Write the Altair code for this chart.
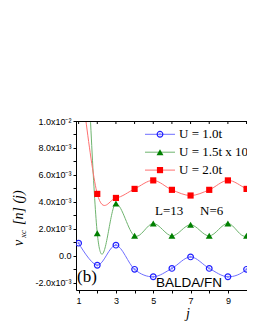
import altair as alt
import pandas as pd

# ---- data (values in units of 1e-3) ----
j_sites = list(range(1, 14))
series_names = ["U = 1.0t", "U = 1.5t x 10", "U = 2.0t"]
blue_vals = [0.95, -0.69, 0.80, -0.99, -1.54, -0.92, -0.07, -0.92, -1.54, -0.99, 0.80, -0.69, 0.95]
green_vals = [31.0, 1.69, 3.88, 1.49, 2.41, 1.49, 2.31, 1.49, 2.41, 1.49, 3.88, 1.69, 31.0]
red_vals = [14.5, 4.60, 4.30, 4.97, 5.60, 4.90, 4.48, 4.90, 5.60, 4.97, 4.30, 4.60, 14.5]
all_vals = [blue_vals, green_vals, red_vals]

x_ticks = list(range(1, 11))
y_tick_steps = list(range(-2, 11))  # in units of 1e-3
y_tick_labels = ["-2.0x10\u207b\u00b3", "", "0.0", "", "2.0x10\u207b\u00b3", "", "4.0x10\u207b\u00b3", "",
                 "6.0x10\u207b\u00b3", "", "8.0x10\u207b\u00b3", "", "1.0x10\u207b\u00b2"]

line_colors = ["#6f6fff", "#6fb46f", "#ff7070"]
marker_colors = ["#1f1fff", "#008000", "#ff0000"]

rows = []
for name, vals in zip(series_names, all_vals):
    for jj, v in zip(j_sites, vals):
        rows.append({"j": jj, "v": v * 1e-3, "series": name})
df = pd.DataFrame(rows)

W, H = 171, 169
xs = alt.Scale(domain=[0.86, 0.86 + W / 18.66], nice=False, zero=False)
ys = alt.Scale(domain=[-0.00252, 0.01], nice=False, zero=False)

label_arr = "[" + ",".join("'" + s + "'" for s in y_tick_labels) + "]"
xaxis = alt.Axis(values=x_ticks, labelExpr="datum.value % 2 == 1 ? datum.label : ''",
                 title=None, grid=False, tickSize=3, labelPadding=3, domainColor="black",
                 tickColor="black", labelFont="Liberation Sans", labelFontSize=9, labelColor="black",
                 labelOverlap=False)
yaxis = alt.Axis(values=[s * 1e-3 for s in y_tick_steps],
                 labelExpr=label_arr + "[round(datum.value*1000)+2]",
                 title=None, grid=False, tickSize=3, labelPadding=2, domainColor="black",
                 tickColor="black", labelFont="Liberation Sans", labelFontSize=9, labelColor="black",
                 labelOverlap=False)

base = alt.Chart(df)
X = alt.X("j:Q", scale=xs, axis=xaxis)
Y = alt.Y("v:Q", scale=ys, axis=yaxis)

layers = []
lines = base.mark_line(interpolate="cardinal", tension=0, clip=True, strokeWidth=1).encode(
    x=X, y=Y,
    color=alt.Color("series:N", scale=alt.Scale(domain=series_names, range=line_colors), legend=None),
)
layers.append(lines)

def marker_layers(src, idx, x=None, y=None):
    out = []
    c = marker_colors[idx]
    clip = x is None
    if clip:
        enc = dict(x=X, y=Y)
    else:
        enc = dict(x=alt.value(x), y=alt.value(y))
    if idx == 0:
        out.append(src.mark_point(shape="circle", filled=False, size=32, strokeWidth=1.2, color=c,
                                  opacity=1, clip=clip).encode(**enc))
        out.append(src.mark_point(shape="circle", filled=True, size=5, color="#7f7fff",
                                  opacity=1, clip=clip).encode(**enc))
    elif idx == 1:
        out.append(src.mark_point(shape="triangle-up", filled=True, size=48, color=c,
                                  opacity=1, clip=clip).encode(**enc))
    else:
        out.append(src.mark_point(shape="square", filled=True, size=38, color=c,
                                  opacity=1, clip=clip).encode(**enc))
    return out

for i, name in enumerate(series_names):
    sub = alt.Chart(df[df.series == name])
    layers += marker_layers(sub, i)

one = pd.DataFrame({"a": [0]})
# top frame line and its inward ticks
layers.append(alt.Chart(one).mark_rule(color="black", strokeWidth=1).encode(
    x=alt.value(0), x2=alt.value(W), y=alt.value(0.5)))
top_ticks = alt.Chart(pd.DataFrame({"j": x_ticks})).mark_rule(color="black", strokeWidth=1).encode(
    x=X, y=alt.value(0), y2=alt.value(3))
layers.append(top_ticks)

# manual legend
for i, name in enumerate(series_names):
    yl = 13.3 + 17.9 * i
    src = alt.Chart(one)
    layers.append(src.mark_rule(color=line_colors[i], strokeWidth=1).encode(
        x=alt.value(69), x2=alt.value(99), y=alt.value(yl)))
    layers += marker_layers(src, i, x=84, y=yl)
    layers.append(src.mark_text(text=name, align="left", baseline="middle", font="Liberation Serif",
                                fontSize=13, color="black").encode(x=alt.value(103), y=alt.value(yl)))

def txt(s, x, y, font="Liberation Serif", size=13, style="normal", angle=0, baseline="alphabetic", align="left"):
    return alt.Chart(one).mark_text(text=s, align=align, baseline=baseline, font=font, fontSize=size,
                                    fontStyle=style, angle=angle, color="black").encode(
        x=alt.value(x), y=alt.value(y))

layers.append(txt("L=13", 79, 93.5))
layers.append(txt("N=6", 124, 93.5))
layers.append(txt("(b)", 1, 160.5, size=17))
layers.append(txt("BALDA/FN", 80, 166, font="Liberation Sans", size=13.5))
layers.append(txt("j", 112, 197, size=14, style="italic", align="center"))
# y title: v_xc [n] (j)
layers.append(txt("v", -53, 125, size=14, style="italic", angle=270))
layers.append(txt("xc", -50, 117, size=9, style="italic", angle=270))
layers.append(txt("[n] (j)", -53, 104, size=14, style="italic", angle=270))

chart = alt.layer(*layers).properties(
    width=W, height=H,
    autosize=alt.AutoSizeParams(type="none"),
    padding={"left": 68, "top": 113, "right": 0, "bottom": 32},
).configure_view(stroke=None).configure_axis(labelOverlap=False).configure(background="white")

chart.save("out.html", embed_options={"renderer": "svg", "actions": False})
